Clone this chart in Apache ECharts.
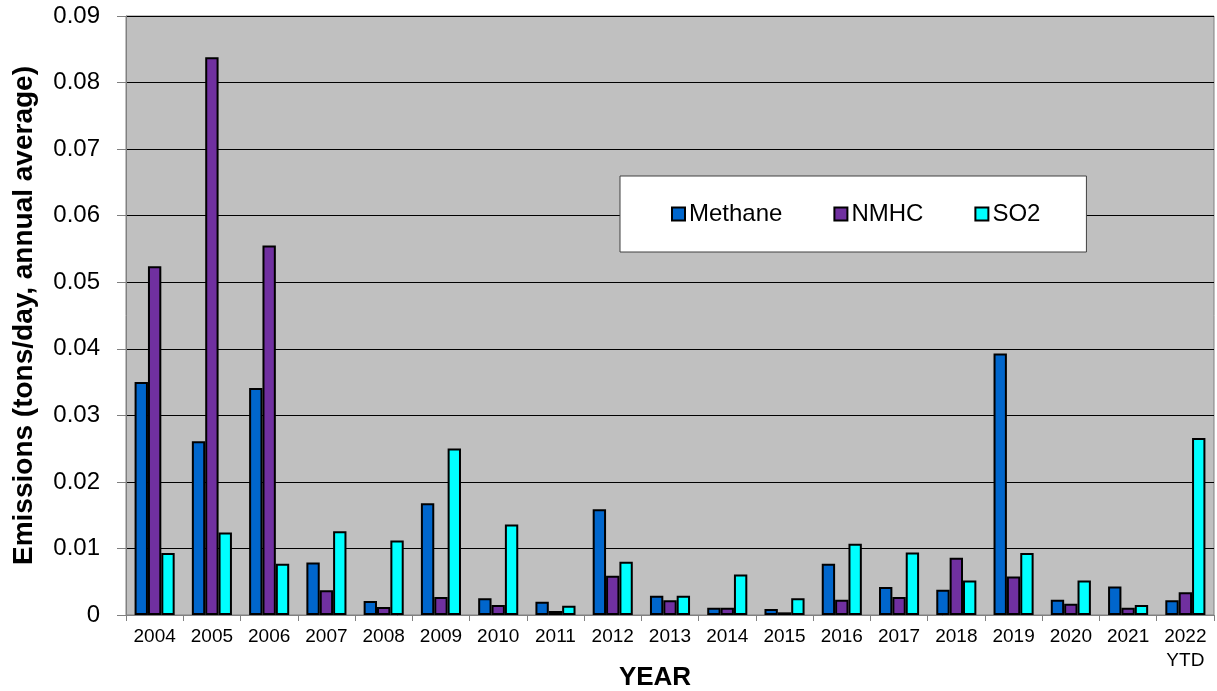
<!DOCTYPE html>
<html><head><meta charset="utf-8">
<script src="https://cdn.jsdelivr.net/npm/echarts@6/dist/echarts.min.js"></script>
<style>html,body{margin:0;padding:0;background:#fff}#c{width:1217px;height:691px}</style>
</head><body><div id="c"></div>
<script>
var years = ['2004','2005','2006','2007','2008','2009','2010','2011','2012','2013','2014','2015','2016','2017','2018','2019','2020','2021','2022\nYTD'];
var methane = [0.0350,0.0261,0.0341,0.0079,0.0021,0.0168,0.0025,0.0020,0.0159,0.0029,0.0011,0.0009,0.0077,0.0042,0.0038,0.0393,0.0023,0.0043,0.0022];
var nmhc    = [0.0524,0.0838,0.0555,0.0037,0.0012,0.0027,0.0015,0.0006,0.0059,0.0022,0.0011,0.0004,0.0023,0.0027,0.0086,0.0058,0.0017,0.0011,0.0034];
var so2     = [0.0093,0.0124,0.0077,0.0126,0.0112,0.0250,0.0136,0.0014,0.0080,0.0029,0.0061,0.0025,0.0107,0.0094,0.0052,0.0093,0.0052,0.0015,0.0266];
var yTicks = {min:0, max:0.09, interval:0.01};

var chart = echarts.init(document.getElementById('c'));
var ff = 'Liberation Sans, Arial, sans-serif';
function bar(name, data, color){
  return {name:name, type:'bar', data:data, barGap:'0%', barCategoryGap:'30%',
    itemStyle:{color:color, borderColor:'#000', borderWidth:2}};
}
var legItem = function(n){return {name:n, icon:'rect', itemStyle:{borderColor:'#000',borderWidth:2}};};
chart.setOption({
  animation:false,
  textStyle:{fontFamily:ff},
  grid:{left:126, right:3, top:16, bottom:76, outerBoundsMode:'none', containLabel:false,
    show:true, backgroundColor:'#C0C0C0', borderColor:'#808080', borderWidth:1},
  legend:{left:620, top:176, orient:'horizontal',
    backgroundColor:'#fff', borderColor:'#404040', borderWidth:1,
    padding:[26,46,26,51], itemGap:51, itemWidth:13, itemHeight:13,
    textStyle:{fontSize:24, color:'#000', fontFamily:ff, padding:[0,0,0,-1]},
    data:[legItem('Methane'), legItem('NMHC'), legItem('SO2')]},
  xAxis:{type:'category', data:years, boundaryGap:true,
    name:'YEAR', nameLocation:'middle', nameGap:50, nameMoveOverlap:false,
    nameTextStyle:{fontSize:26, fontWeight:'bold', color:'#000', fontFamily:ff, padding:[0,30,0,0]},
    axisLine:{lineStyle:{color:'#808080', width:1}},
    axisTick:{show:true, length:6, interval:0, lineStyle:{color:'#808080'}},
    axisLabel:{fontSize:19, color:'#000', interval:0, margin:10, lineHeight:24, fontFamily:ff}},
  yAxis:{type:'value', min:yTicks.min, max:yTicks.max, interval:yTicks.interval,
    name:'Emissions (tons/day, annual average)', nameLocation:'middle', nameGap:88, nameMoveOverlap:false,
    nameTextStyle:{fontSize:28, fontWeight:'bold', color:'#000', fontFamily:ff},
    axisLine:{show:true, lineStyle:{color:'#808080'}},
    axisTick:{show:true, length:9, lineStyle:{color:'#808080'}},
    splitLine:{show:true, lineStyle:{color:'#000', width:1}},
    axisLabel:{fontSize:24, color:'#000', margin:26, fontFamily:ff,
      formatter:function(v){return v===0?'0':v.toFixed(2);}}},
  series:[bar('Methane', methane, '#0066CC'), bar('NMHC', nmhc, '#7030A0'), bar('SO2', so2, '#00FFFF')]
});
</script></body></html>
